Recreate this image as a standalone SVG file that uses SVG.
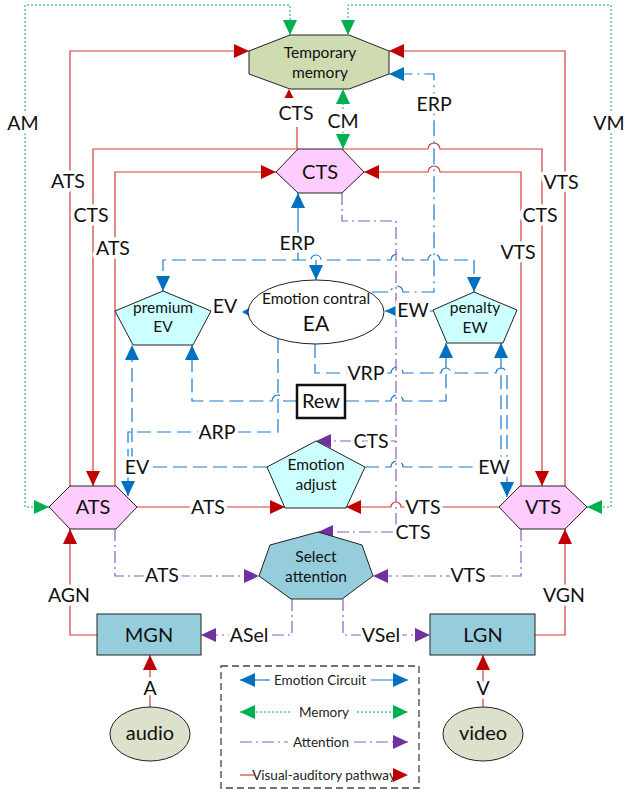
<svg xmlns="http://www.w3.org/2000/svg" width="624" height="793" viewBox="0 0 624 793">
<defs>
<style>
.r{fill:none;stroke:#d43a3a;stroke-width:1.2}
.b{fill:none;stroke:#1a7acc;stroke-width:1.2;stroke-dasharray:14 6}
.bd{fill:none;stroke:#1a7acc;stroke-width:1.2;stroke-dasharray:16 5 2 5}
.bs{fill:none;stroke:#1a7acc;stroke-width:1.2}
.p{fill:none;stroke:#8e5cc4;stroke-width:1.2;stroke-dasharray:12 4 2 4}
.g{fill:none;stroke:#00b050;stroke-width:1;stroke-dasharray:2 2}
.lbl{font-family:Lato,'Open Sans',sans-serif;font-size:19.5px;text-anchor:middle;fill:#111;paint-order:stroke;stroke:#fff;stroke-width:7px;stroke-linejoin:round}
.nt{font-family:Lato,'Open Sans',sans-serif;text-anchor:middle;fill:#111}
.lg{font-family:Lato,'Open Sans',sans-serif;font-size:13.5px;fill:#222}
.shape{stroke:#222;stroke-width:1}
</style>
<marker id="ar" markerUnits="userSpaceOnUse" markerWidth="15" markerHeight="14" viewBox="0 0 15 14" refX="15" refY="7" orient="auto-start-reverse"><path d="M0,0L15,7L0,14z" fill="#c00000"/></marker>
<marker id="ab" markerUnits="userSpaceOnUse" markerWidth="15" markerHeight="14" viewBox="0 0 15 14" refX="15" refY="7" orient="auto-start-reverse"><path d="M0,0L15,7L0,14z" fill="#0070c0"/></marker>
<marker id="ap" markerUnits="userSpaceOnUse" markerWidth="15" markerHeight="14" viewBox="0 0 15 14" refX="15" refY="7" orient="auto-start-reverse"><path d="M0,0L15,7L0,14z" fill="#7030a0"/></marker>
<marker id="ag" markerUnits="userSpaceOnUse" markerWidth="15" markerHeight="14" viewBox="0 0 15 14" refX="15" refY="7" orient="auto-start-reverse"><path d="M0,0L15,7L0,14z" fill="#00b050"/></marker>
</defs>
<rect width="624" height="793" fill="#fff"/>

<g id="connectors">
<path class="g" d="M49,507H25V5H290V35" marker-start="url(#ag)" marker-end="url(#ag)"/>
<path class="g" d="M587,507H611V5H348V35" marker-start="url(#ag)" marker-end="url(#ag)"/>
<path class="g" d="M343,149V89" marker-start="url(#ag)" marker-end="url(#ag)"/>

<path class="r" d="M70,486V51H249" marker-end="url(#ar)"/>
<path class="r" d="M565,486V51H389" marker-end="url(#ar)"/>
<path class="r" d="M297,149V127"/>
<polygon points="289,89 284.5,98 293.5,98" fill="#c00000"/>
<path class="r" d="M298,149H93V486" marker-end="url(#ar)"/>
<path class="r" d="M342,149H428a6,6 0 0 1 12,0H542V486" marker-end="url(#ar)"/>
<path class="r" d="M115,486V172H276" marker-end="url(#ar)"/>
<path class="r" d="M521,486V172H440a6,6 0 0 0 -12,0H364" marker-end="url(#ar)"/>
<path class="r" d="M137,507H285" marker-end="url(#ar)"/>
<path class="r" d="M499,507H401a5,5 0 0 0 -10,0H346" marker-end="url(#ar)"/>
<path class="r" d="M97,635H70V529" marker-end="url(#ar)"/>
<path class="r" d="M535,635H565V529" marker-end="url(#ar)"/>
<path class="r" d="M150,707V655" marker-end="url(#ar)"/>
<path class="r" d="M483,707V655" marker-end="url(#ar)"/>

<path class="bs" d="M298,260V193" marker-end="url(#ab)"/>
<path class="b" d="M163,291V260H311a5,5 0 0 1 10,0H391a6,6 0 0 1 12,0H428a6,6 0 0 1 12,0H474V292" marker-start="url(#ab)" marker-end="url(#ab)"/>
<path class="bs" d="M316,260V280" marker-end="url(#ab)"/>
<path class="bd" d="M372,292H391a6,6 0 0 1 12,0H434V74H389" marker-end="url(#ab)"/>
<polygon points="242,312 248,308.5 248,315.5" fill="#0070c0"/>
<path class="bs" d="M433,311H385" marker-end="url(#ab)"/>
<path class="b" d="M278,339V432H128V496" marker-end="url(#ab)"/>
<path class="b" d="M315,344V373H391a6,6 0 0 1 12,0H441a5,5 0 0 1 10,0H496a5,5 0 0 1 10,0H507V497" marker-end="url(#ab)"/>
<path class="b" d="M297,401H284a6,6 0 0 0 -12,0H192V345" marker-end="url(#ab)"/>
<path class="b" d="M345,401H391a6,6 0 0 1 12,0H446V343" marker-end="url(#ab)"/>
<path class="b" d="M267,467H132V345" marker-end="url(#ab)"/>
<path class="b" d="M365,467H391a6,6 0 0 1 12,0H501V343" marker-end="url(#ab)"/>

<path class="p" d="M342,193V221H396V532H318" marker-end="url(#ap)"/>
<path class="p" d="M396,441H316" marker-end="url(#ap)"/>
<path class="p" d="M115,529V576H259" marker-end="url(#ap)"/>
<path class="p" d="M521,529V576H373" marker-end="url(#ap)"/>
<path class="p" d="M292,599V635H201" marker-end="url(#ap)"/>
<path class="p" d="M343,599V635H430" marker-end="url(#ap)"/>

<text class="lbl" x="23" y="130">AM</text>
<text class="lbl" x="609" y="130">VM</text>
<text class="lbl" x="296" y="120">CTS</text>
<text class="lbl" x="343" y="128">CM</text>
<text class="lbl" x="434" y="111">ERP</text>
<text class="lbl" x="68" y="188">ATS</text>
<text class="lbl" x="561" y="189">VTS</text>
<text class="lbl" x="91" y="222">CTS</text>
<text class="lbl" x="540" y="222">CTS</text>
<text class="lbl" x="113" y="255">ATS</text>
<text class="lbl" x="518" y="259">VTS</text>
<text class="lbl" x="297" y="250">ERP</text>
<text class="lbl" x="225" y="313">EV</text>
<text class="lbl" x="413" y="317">EW</text>
<text class="lbl" x="366" y="380">VRP</text>
<text class="lbl" x="217" y="439">ARP</text>
<text class="lbl" x="371" y="448">CTS</text>
<text class="lbl" x="137" y="474">EV</text>
<text class="lbl" x="494" y="474">EW</text>
<text class="lbl" x="208" y="514">ATS</text>
<text class="lbl" x="423" y="514">VTS</text>
<text class="lbl" x="413" y="539">CTS</text>
<text class="lbl" x="162" y="582">ATS</text>
<text class="lbl" x="468" y="582">VTS</text>
<text class="lbl" x="69" y="602">AGN</text>
<text class="lbl" x="564" y="602">VGN</text>
<text class="lbl" x="249" y="642">ASel</text>
<text class="lbl" x="381" y="642">VSel</text>
<text class="lbl" x="150" y="695">A</text>
<text class="lbl" x="483" y="695">V</text>
</g>

<g id="temporary-memory">
<polygon class="shape" points="290,35 349,35 389,51 389,74 349,89 290,89 249,74 249,51" fill="#cfdbb0"/>
<text class="nt" x="320" y="58" font-size="15.5">Temporary</text>
<text class="nt" x="320" y="78" font-size="15.5">memory</text>
</g>
<g id="cts">
<polygon class="shape" points="298,149 342,149 364,172 342,193 298,193 276,172" fill="#ffccff"/>
<text class="nt" x="320" y="179" font-size="20">CTS</text>
</g>
<g id="ats">
<polygon class="shape" points="70,486 116,486 137,507 116,529 70,529 49,507" fill="#ffccff"/>
<text class="nt" x="93" y="514" font-size="20">ATS</text>
</g>
<g id="vts">
<polygon class="shape" points="520,486 565,486 587,507 565,529 520,529 499,507" fill="#ffccff"/>
<text class="nt" x="543" y="514" font-size="20">VTS</text>
</g>
<g id="premium-ev">
<polygon class="shape" points="163,291 211,311 193,345 133,345 115,311" fill="#ccffff"/>
<text class="nt" x="163" y="313" font-size="15.5">premium</text>
<text class="nt" x="163" y="332" font-size="15.5">EV</text>
</g>
<g id="penalty-ew">
<polygon class="shape" points="474,292 517,310 503,343 447,343 433,310" fill="#ccffff"/>
<text class="nt" x="475" y="313" font-size="15.5">penalty</text>
<text class="nt" x="475" y="333" font-size="15.5">EW</text>
</g>
<g id="emotion-contral">
<ellipse class="shape" cx="316" cy="312" rx="68" ry="32" fill="#fff"/>
<text class="nt" x="316" y="304" font-size="15.5">Emotion contral</text>
<text class="nt" x="316" y="331" font-size="21">EA</text>
</g>
<g id="rew">
<rect x="297" y="385" width="48" height="33" fill="#fff" stroke="#111" stroke-width="2.5"/>
<text class="nt" x="321" y="408" font-size="20">Rew</text>
</g>
<g id="emotion-adjust">
<polygon class="shape" points="316,441 365,467 346,508 285,508 267,467" fill="#ccffff"/>
<text class="nt" x="316" y="470" font-size="15.5">Emotion</text>
<text class="nt" x="316" y="490" font-size="15.5">adjust</text>
</g>
<g id="select-attention">
<polygon class="shape" points="318,532 362,545 373,576 342,599 291,599 259,576 270,545" fill="#96cddc"/>
<text class="nt" x="316" y="562" font-size="15.5">Select</text>
<text class="nt" x="316" y="582" font-size="15.5">attention</text>
</g>
<g id="mgn">
<rect class="shape" x="97" y="614" width="104" height="41" fill="#96cddc"/>
<text class="nt" x="149" y="642" font-size="20">MGN</text>
</g>
<g id="lgn">
<rect class="shape" x="430" y="614" width="105" height="41" fill="#96cddc"/>
<text class="nt" x="483" y="642" font-size="20">LGN</text>
</g>
<g id="audio">
<ellipse class="shape" cx="150" cy="734" rx="40" ry="27" fill="#dde0cb"/>
<text class="nt" x="150" y="740" font-size="20">audio</text>
</g>
<g id="video">
<ellipse class="shape" cx="483" cy="734" rx="40" ry="27" fill="#dde0cb"/>
<text class="nt" x="483" y="740" font-size="20">video</text>
</g>

<g id="legend">
<rect x="221" y="666" width="198" height="122" fill="none" stroke="#444" stroke-width="1.3" stroke-dasharray="7 4"/>
<path class="bs" d="M240,680H270" marker-start="url(#ab)"/>
<text class="lg" x="320" y="684.5" text-anchor="middle">Emotion Circuit</text>
<path class="bs" d="M371,680H408" marker-end="url(#ab)"/>
<path class="g" d="M240,712H290" marker-start="url(#ag)"/>
<text class="lg" x="324" y="716.5" text-anchor="middle">Memory</text>
<path class="g" d="M357,712H408" marker-end="url(#ag)"/>
<path class="p" d="M240,742H288"/>
<text class="lg" x="321" y="746.5" text-anchor="middle">Attention</text>
<path class="p" d="M354,742H408" marker-end="url(#ap)"/>
<path class="r" d="M240,775H255"/>
<text class="lg" x="324" y="779.5" text-anchor="middle">Visual-auditory pathway</text>
<polygon points="393,768 408,775 393,782" fill="#c00000"/>
</g>
</svg>
